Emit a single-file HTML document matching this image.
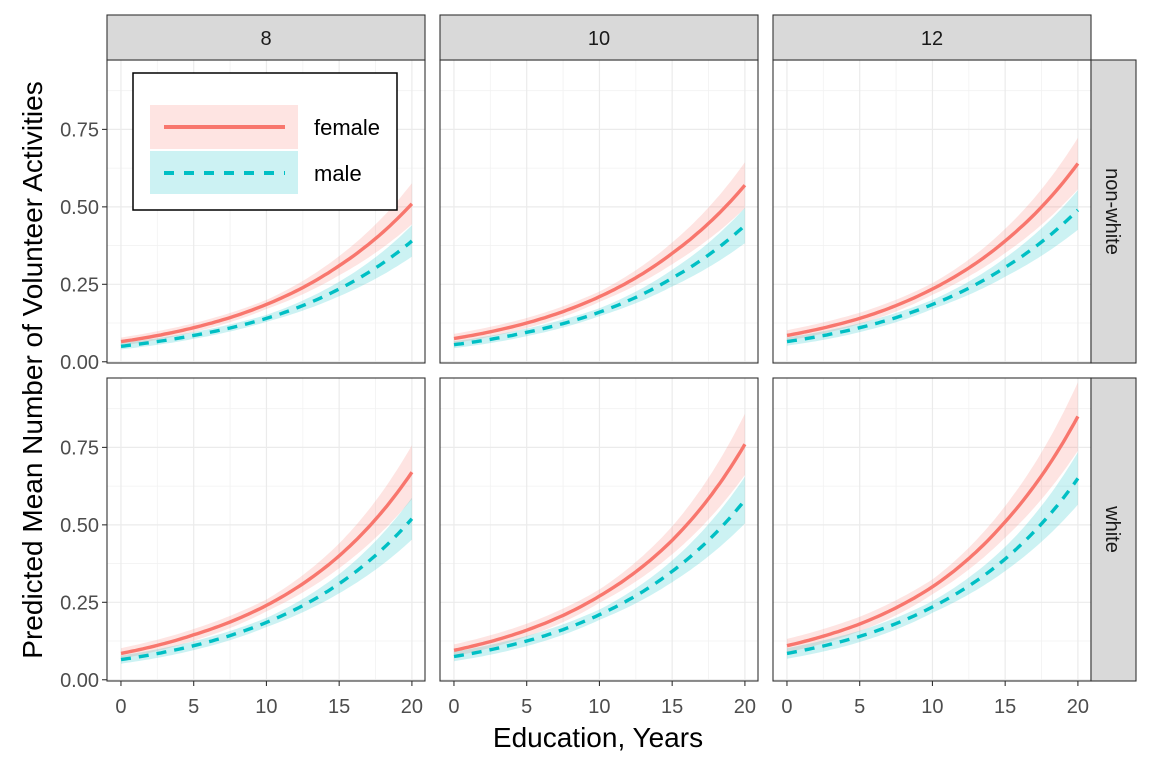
<!DOCTYPE html>
<html><head><meta charset="utf-8"><style>
body{margin:0;background:#fff;font-family:"Liberation Sans",sans-serif}
svg{display:block}
</style></head><body>
<svg id="c" width="1152" height="768" xmlns="http://www.w3.org/2000/svg"></svg>
<script>
const xVals=[0,5,10,15,20];
const colLabels=["8","10","12"];
const rowLabels=["non-white","white"];
const femaleNW=[[0.065,0.11,0.185,0.31,0.51],[0.075,0.125,0.21,0.35,0.57],[0.085,0.14,0.235,0.39,0.64]];
const maleNW=[[0.05,0.085,0.14,0.235,0.39],[0.055,0.095,0.16,0.27,0.44],[0.065,0.11,0.185,0.305,0.49]];
const femaleW=[[0.085,0.145,0.24,0.40,0.67],[0.095,0.16,0.27,0.45,0.76],[0.11,0.18,0.30,0.51,0.85]];
const maleW=[[0.065,0.11,0.185,0.31,0.52],[0.075,0.125,0.21,0.35,0.58],[0.085,0.14,0.235,0.39,0.65]];
const ciRel=[0.2,0.13,0.08,0.1,0.13];
const xTicks=[0,5,10,15,20];
const yTicks=[0,0.25,0.5,0.75];
const yTickLabels=["0.00","0.25","0.50","0.75"];

const NS="http://www.w3.org/2000/svg",svg=document.getElementById('c');
function mk(t,a,p){const e=document.createElementNS(NS,t);for(const k in a)e.setAttribute(k,a[k]);(p||svg).appendChild(e);return e;}
const colX=[107,440,773],PW=318,rowY=[60,378],PH=303;
function sx(c,v){return colX[c]+(v+0.96)/(21.86)*PW;}
function sy(r,v){return rowY[r]+PH-((v+0.004)/0.978)*PH;}
function interp(arr,t){let i=Math.min(3,Math.floor(t/5));let f=(t-xVals[i])/5;return arr[i]*Math.pow(arr[i+1]/arr[i],f);}
function curve(c,r,arr,mult){let d="";for(let s=0;s<=80;s++){const t=s/4;const k=Math.min(3,Math.floor(t/5));const f=(t-xVals[k])/5;const rel=ciRel[k]+(ciRel[k+1]-ciRel[k])*f;const v=interp(arr,t)*(1+mult*rel);d+=(s?"L":"M")+sx(c,t).toFixed(1)+","+sy(r,v).toFixed(1);}return d;}
function ribbon(c,r,arr){let up=curve(c,r,arr,1),lo=curve(c,r,arr,-1);let pts=lo.slice(1).split("L").reverse();return up+"L"+pts.join("L")+"Z";}
const data=[[femaleNW,maleNW],[femaleW,maleW]];
for(let r=0;r<2;r++)for(let c=0;c<3;c++){
  const g=mk('g',{});
  
  
  mk('rect',{x:colX[c],y:rowY[r],width:PW,height:PH,fill:'#fff'},g);
  for(let v=2.5;v<=20;v+=5){const x=sx(c,v);mk('line',{x1:x,x2:x,y1:rowY[r],y2:rowY[r]+PH,stroke:'#F2F2F2','stroke-width':0.8},g);}
  for(let v=0.125;v<0.98;v+=0.25){const y=sy(r,v);mk('line',{x1:colX[c],x2:colX[c]+PW,y1:y,y2:y,stroke:'#F2F2F2','stroke-width':0.8},g);}
  xTicks.forEach(v=>{const x=sx(c,v);mk('line',{x1:x,x2:x,y1:rowY[r],y2:rowY[r]+PH,stroke:'#EBEBEB','stroke-width':1.2},g);});
  yTicks.forEach(v=>{const y=sy(r,v);mk('line',{x1:colX[c],x2:colX[c]+PW,y1:y,y2:y,stroke:'#EBEBEB','stroke-width':1.2},g);});
  const [F,M]=data[r];
  const rf=mk('path',{d:ribbon(c,r,F[c]),fill:'#F8766D','fill-opacity':0.2},g);
  
  const rm=mk('path',{d:ribbon(c,r,M[c]),fill:'#00BFC4','fill-opacity':0.2},g);
  
  const lf=mk('path',{d:curve(c,r,F[c],0),fill:'none',stroke:'#F8766D','stroke-width':3.4},g);
  
  const lm=mk('path',{d:curve(c,r,M[c],0),fill:'none',stroke:'#00BFC4','stroke-width':3.4,'stroke-dasharray':'10,8'},g);
  
  mk('rect',{x:colX[c],y:rowY[r],width:PW,height:PH,fill:'none',stroke:'#333','stroke-width':1.1},g);
  if(c===0){yTicks.forEach((v,i)=>{const y=sy(r,v);mk('line',{x1:colX[c]-5,x2:colX[c],y1:y,y2:y,stroke:'#333','stroke-width':1.1},g);
    const t=mk('text',{x:colX[c]-8,y:y+7,'text-anchor':'end','font-size':20,fill:'#4D4D4D'},g);t.textContent=yTickLabels[i];
    });}
  if(r===1){xTicks.forEach(v=>{const x=sx(c,v);mk('line',{x1:x,x2:x,y1:rowY[r]+PH,y2:rowY[r]+PH+5,stroke:'#333','stroke-width':1.1},g);
    const t=mk('text',{x:x,y:713,'text-anchor':'middle','font-size':20,fill:'#4D4D4D'},g);t.textContent=v;
    });}
}
for(let c=0;c<3;c++){const g=mk('g',{});
  mk('rect',{x:colX[c],y:15,width:PW,height:45,fill:'#D9D9D9',stroke:'#333','stroke-width':1.1},g);
  const t=mk('text',{x:colX[c]+PW/2,y:45,'text-anchor':'middle','font-size':20,fill:'#1A1A1A'},g);t.textContent=colLabels[c];}
for(let r=0;r<2;r++){const g=mk('g',{});
  mk('rect',{x:1091,y:rowY[r],width:45,height:PH,fill:'#D9D9D9',stroke:'#333','stroke-width':1.1},g);
  const cy=rowY[r]+PH/2;const t=mk('text',{x:1106,y:cy,'text-anchor':'middle','font-size':20,fill:'#1A1A1A',transform:`rotate(90 1106 ${cy})`},g);t.textContent=rowLabels[r];}
let t=mk('text',{x:598,y:747,'text-anchor':'middle','font-size':28,fill:'#000'});t.textContent="Education, Years";

t=mk('text',{x:42,y:370,'text-anchor':'middle','font-size':28,fill:'#000',transform:'rotate(-90 42 370)'});t.textContent="Predicted Mean Number of Volunteer Activities";

const lg=mk('g',{});
mk('rect',{x:133,y:73,width:264,height:137,fill:'#fff',stroke:'#000','stroke-width':1.5},lg);
mk('rect',{x:150,y:105,width:148,height:44,fill:'#F8766D','fill-opacity':0.2},lg);
mk('rect',{x:150,y:151,width:148,height:43,fill:'#00BFC4','fill-opacity':0.2},lg);
mk('line',{x1:164,x2:285,y1:127,y2:127,stroke:'#F8766D','stroke-width':4},lg);
mk('line',{x1:164,x2:285,y1:173,y2:173,stroke:'#00BFC4','stroke-width':4,'stroke-dasharray':'10,10'},lg);
t=mk('text',{x:314,y:135,'font-size':22,fill:'#000'},lg);t.textContent="female";

t=mk('text',{x:314,y:181,'font-size':22,fill:'#000'},lg);t.textContent="male";

</script></body></html>
